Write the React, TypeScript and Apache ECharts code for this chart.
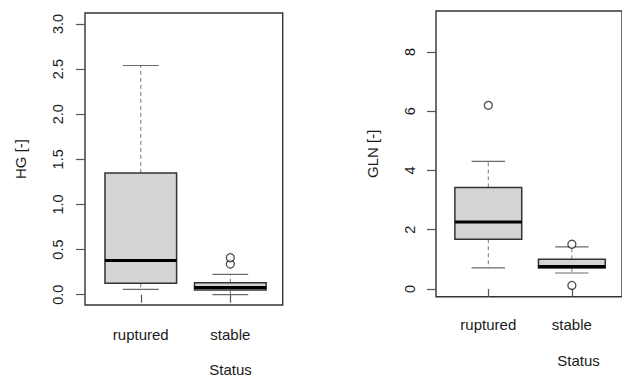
import React, { useEffect, useRef } from "react";
import * as echarts from "echarts";

const categories = ["ruptured", "stable"];
// [lower whisker, Q1, median, Q3, upper whisker]
const hgStats = [
  [0.06, 0.126, 0.38, 1.35, 2.54],
  [0.0, 0.052, 0.08, 0.133, 0.226],
];
const hgOutliers = [
  [2, 0.34],
  [2, 0.41],
];
const glnStats = [
  [0.71, 1.68, 2.26, 3.43, 4.31],
  [0.54, 0.71, 0.76, 1.0, 1.42],
];
const glnOutliers = [
  [1, 6.2],
  [2, 1.51],
  [2, 0.12],
];
const hgTicks = [0, 0.5, 1, 1.5, 2, 2.5, 3];
const glnTicks = [0, 2, 4, 6, 8];
const xTicks = [1, 2];

const FONT = "Liberation Sans, Arial, sans-serif";
const TEXT = "#1a1a1a";

const renderBox = (params: any, api: any) => {
  const x = api.value(0);
  const lo = api.coord([x, api.value(1)]);
  const q1 = api.coord([x, api.value(2)]);
  const med = api.coord([x, api.value(3)]);
  const q3 = api.coord([x, api.value(4)]);
  const hi = api.coord([x, api.value(5)]);
  const boxW = api.size([0.8, 0])[0];
  const capW = boxW / 2;
  const cx = med[0];
  const whisk = { stroke: "#7a7a7a", lineWidth: 1, lineDash: [4, 3] };
  const cap = { stroke: "#6a6a6a", lineWidth: 1.2 };
  return {
    type: "group",
    children: [
      { type: "line", shape: { x1: cx, y1: q3[1], x2: cx, y2: hi[1] }, style: whisk },
      { type: "line", shape: { x1: cx, y1: q1[1], x2: cx, y2: lo[1] }, style: whisk },
      { type: "line", shape: { x1: cx - capW / 2, y1: hi[1], x2: cx + capW / 2, y2: hi[1] }, style: cap },
      { type: "line", shape: { x1: cx - capW / 2, y1: lo[1], x2: cx + capW / 2, y2: lo[1] }, style: cap },
      {
        type: "rect",
        shape: { x: cx - boxW / 2, y: q3[1], width: boxW, height: q1[1] - q3[1] },
        style: { fill: "#d4d4d4", stroke: "#333", lineWidth: 1.5 },
      },
      {
        type: "line",
        shape: { x1: cx - boxW / 2, y1: med[1], x2: cx + boxW / 2, y2: med[1] },
        style: { stroke: "#000", lineWidth: 3 },
      },
    ],
  };
};

const xAxisCfg = (gridIndex: number, min: number, max: number, margin: number) => ({
  type: "value",
  gridIndex,
  min,
  max,
  axisLine: { show: false },
  splitLine: { show: false },
  axisTick: { show: true, customValues: xTicks, length: 8, lineStyle: { color: "#555", width: 1.2 } },
  axisLabel: {
    customValues: xTicks,
    formatter: (v: number) => categories[Math.round(v) - 1] || "",
    margin,
    fontSize: 15,
    fontFamily: FONT,
    color: TEXT,
  },
});

const yAxisCfg = (
  gridIndex: number,
  min: number,
  max: number,
  ticks: number[],
  digits: number,
  name: string,
  nameGap: number,
  margin: number
) => ({
  type: "value",
  gridIndex,
  min,
  max,
  name,
  nameLocation: "middle",
  nameGap,
  nameTextStyle: { fontSize: 15, fontFamily: FONT, color: TEXT },
  axisLine: { show: false },
  splitLine: { show: false },
  axisTick: { show: true, customValues: ticks, length: 9, lineStyle: { color: "#555", width: 1.2 } },
  axisLabel: {
    customValues: ticks,
    rotate: 90,
    formatter: (v: number) => v.toFixed(digits),
    margin,
    fontSize: 14.5,
    fontFamily: FONT,
    color: TEXT,
  },
});

export default function App() {
  const ref = useRef<HTMLDivElement>(null);
  useEffect(() => {
    if (!ref.current) return;
    const chart = echarts.init(ref.current, undefined, { renderer: "svg" });
    const outlierStyle = {
      symbol: "circle",
      symbolSize: 8,
      itemStyle: { color: "#fff", borderColor: "#222", borderWidth: 1.3 },
    };
    chart.setOption({
      animation: false,
      backgroundColor: "#fff",
      grid: [
        { left: 85, top: 13, width: 197.7, height: 292, show: true, borderColor: "#333", borderWidth: 1.4, backgroundColor: "transparent" },
        { left: 436, top: 11, width: 195, height: 285.7, show: true, borderColor: "#333", borderWidth: 1.4, backgroundColor: "transparent" },
      ],
      xAxis: [xAxisCfg(0, 0.377, 2.585, 22), xAxisCfg(1, 0.374, 2.6, 20)],
      yAxis: [
        yAxisCfg(0, -0.114, 3.122, hgTicks, 1, "HG [-]", 57, 20),
        yAxisCfg(1, -0.26, 9.384, glnTicks, 0, "GLN [-]", 56, 19),
      ],
      graphic: [
        {
          type: "text",
          x: 230.5,
          y: 369,
          style: { text: "Status", fontSize: 15, fontFamily: FONT, fill: TEXT, textAlign: "center", textVerticalAlign: "middle" },
        },
        {
          type: "text",
          x: 578.5,
          y: 360.5,
          style: { text: "Status", fontSize: 15, fontFamily: FONT, fill: TEXT, textAlign: "center", textVerticalAlign: "middle" },
        },
      ],
      series: [
        {
          type: "custom",
          xAxisIndex: 0,
          yAxisIndex: 0,
          renderItem: renderBox,
          encode: { x: 0, y: [1, 2, 3, 4, 5] },
          data: hgStats.map((s, i) => [i + 1, ...s]),
        },
        {
          type: "custom",
          xAxisIndex: 1,
          yAxisIndex: 1,
          renderItem: renderBox,
          encode: { x: 0, y: [1, 2, 3, 4, 5] },
          data: glnStats.map((s, i) => [i + 1, ...s]),
        },
        { type: "scatter", xAxisIndex: 0, yAxisIndex: 0, data: hgOutliers, ...outlierStyle },
        { type: "scatter", xAxisIndex: 1, yAxisIndex: 1, data: glnOutliers, ...outlierStyle },
      ],
    });
    return () => chart.dispose();
  }, []);
  return (
    <div
      ref={ref}
      style={{ position: "absolute", left: 0, top: 0, width: 622, height: 376, background: "#fff" }}
    />
  );
}
